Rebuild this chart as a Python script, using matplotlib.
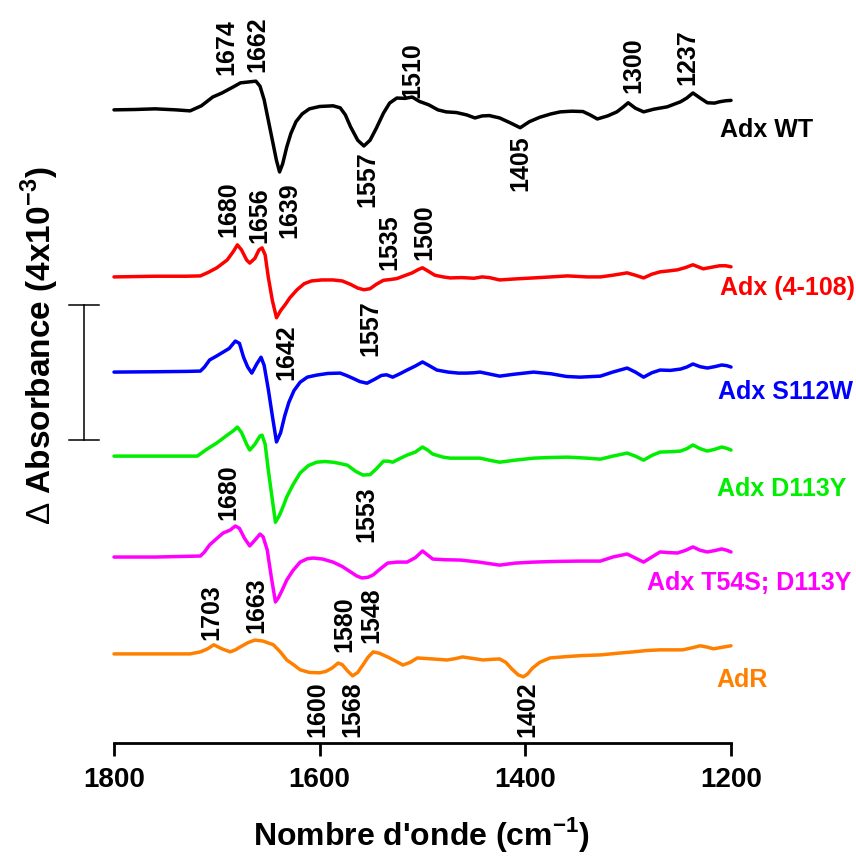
import matplotlib
matplotlib.use('Agg')
import matplotlib.pyplot as plt

# difference spectra, values in 10^-3 absorbance units (relative to each baseline)
wt_wn = [1800, 1780, 1760, 1740, 1726, 1715, 1704, 1695, 1684, 1677, 1668, 1662, 1658, 1654, 1650, 1646,
         1642, 1639, 1636, 1632, 1628, 1623, 1617, 1610, 1600, 1587, 1580, 1575, 1570, 1563, 1557, 1551,
         1545, 1538, 1532, 1525, 1517, 1510, 1503, 1494, 1485, 1477, 1467, 1457, 1449, 1442, 1435, 1425,
         1415, 1405, 1396, 1386, 1375, 1366, 1355, 1344, 1337, 1330, 1320, 1311, 1305, 1300, 1293, 1285,
         1275, 1262, 1249, 1243, 1237, 1230, 1223, 1216, 1211, 1205, 1200]
wt_abs = [0, 0.01, 0.03, 0.0, -0.03, 0.12, 0.38, 0.50, 0.68, 0.80, 0.83, 0.85, 0.70, 0.30, -0.30, -0.90,
          -1.50, -1.84, -1.60, -1.10, -0.70, -0.35, -0.12, 0.03, 0.10, 0.12, 0.06, -0.15, -0.50, -0.90, -1.07, -0.90,
          -0.55, -0.10, 0.20, 0.35, 0.34, 0.38, 0.25, 0.15, 0.0, -0.06, -0.08, -0.15, -0.24, -0.18, -0.17, -0.24,
          -0.38, -0.53, -0.35, -0.22, -0.12, -0.06, -0.04, -0.05, -0.15, -0.27, -0.18, -0.06, 0.08, 0.21, 0.05, -0.06,
          0.02, 0.09, 0.24, 0.35, 0.50, 0.35, 0.21, 0.20, 0.24, 0.27, 0.28]

t108_wn = [1800, 1760, 1730, 1716, 1708, 1700, 1690, 1684, 1680, 1676, 1671, 1668, 1663, 1659, 1656, 1653,
           1650, 1646, 1642, 1638, 1633, 1629, 1622, 1615, 1608, 1598, 1587, 1578, 1570, 1563, 1557, 1551,
           1545, 1538, 1532, 1525, 1518, 1510, 1504, 1500, 1495, 1488, 1480, 1473, 1462, 1450, 1442, 1435,
           1425, 1410, 1392, 1375, 1359, 1340, 1327, 1315, 1301, 1293, 1285, 1277, 1269, 1260, 1252, 1244,
           1237, 1232, 1227, 1220, 1211, 1205, 1200]
t108_abs = [0, 0.02, 0.02, 0.03, 0.14, 0.27, 0.50, 0.75, 0.95, 0.80, 0.50, 0.41, 0.55, 0.80, 0.86, 0.65,
            0.0, -0.70, -1.21, -1.00, -0.80, -0.62, -0.38, -0.20, -0.12, -0.09, -0.09, -0.12, -0.22, -0.33, -0.38, -0.35,
            -0.22, -0.10, -0.08, -0.05, 0.03, 0.12, 0.22, 0.27, 0.18, 0.05, 0.0, -0.03, -0.02, -0.04, 0.0, -0.02,
            -0.09, -0.06, -0.03, 0.0, 0.03, 0.0, 0.0, 0.05, 0.12, 0.05, -0.03, 0.08, 0.15, 0.18, 0.21, 0.28,
            0.36, 0.30, 0.24, 0.28, 0.33, 0.33, 0.30]

s112w_wn = [1800, 1760, 1730, 1716, 1712, 1707, 1700, 1694, 1688, 1682, 1678, 1674, 1670, 1666, 1661, 1657,
            1654, 1650, 1646, 1642, 1638, 1634, 1630, 1625, 1619, 1612, 1603, 1592, 1580, 1574, 1568, 1561,
            1554, 1547, 1540, 1535, 1529, 1522, 1515, 1507, 1500, 1494, 1486, 1475, 1465, 1457, 1450, 1444,
            1436, 1425, 1410, 1392, 1375, 1360, 1347, 1327, 1315, 1301, 1293, 1285, 1277, 1269, 1259, 1249,
            1243, 1237, 1230, 1223, 1216, 1209, 1204, 1200]
s112w_abs = [0, 0.01, 0.02, 0.03, 0.15, 0.36, 0.48, 0.59, 0.70, 0.92, 0.85, 0.44, 0.15, -0.03, 0.25, 0.44,
             0.20, -0.50, -1.30, -2.07, -1.80, -1.30, -0.90, -0.55, -0.30, -0.15, -0.09, -0.04, -0.03, -0.10, -0.18, -0.28,
             -0.33, -0.22, -0.10, -0.08, -0.15, -0.05, 0.06, 0.18, 0.30, 0.20, 0.06, 0.0, -0.03, -0.03, -0.02, 0.0,
             -0.05, -0.12, -0.06, 0.0, -0.05, -0.13, -0.15, -0.12, 0.0, 0.12, 0.0, -0.15, -0.02, 0.06, 0.05, 0.09,
             0.15, 0.24, 0.16, 0.12, 0.16, 0.21, 0.19, 0.15]

d113y_wn = [1800, 1760, 1719, 1710, 1700, 1690, 1684, 1680, 1676, 1671, 1668, 1663, 1658, 1656, 1653, 1650,
            1646, 1643, 1639, 1635, 1632, 1626, 1619, 1611, 1603, 1595, 1587, 1580, 1573, 1565, 1558, 1551,
            1545, 1538, 1533, 1529, 1522, 1515, 1507, 1500, 1495, 1490, 1480, 1473, 1460, 1444, 1435, 1425,
            1410, 1392, 1375, 1359, 1340, 1327, 1315, 1301, 1293, 1285, 1277, 1269, 1259, 1249, 1243, 1237,
            1230, 1223, 1216, 1209, 1204, 1200]
d113y_abs = [0, 0.0, 0.0, 0.20, 0.39, 0.62, 0.75, 0.86, 0.70, 0.35, 0.18, 0.35, 0.60, 0.62, 0.35, -0.40,
             -1.30, -1.96, -1.75, -1.45, -1.21, -0.85, -0.50, -0.28, -0.18, -0.16, -0.18, -0.22, -0.27, -0.45, -0.56, -0.55,
             -0.38, -0.15, -0.15, -0.18, -0.07, 0.03, 0.12, 0.27, 0.18, 0.06, -0.03, -0.06, -0.06, -0.06, -0.12, -0.18,
             -0.12, -0.06, -0.04, -0.03, -0.06, -0.09, 0.0, 0.09, 0.0, -0.12, 0.02, 0.12, 0.13, 0.15, 0.22, 0.33,
             0.22, 0.15, 0.20, 0.27, 0.23, 0.18]

t54s_wn = [1800, 1760, 1730, 1716, 1712, 1707, 1700, 1694, 1687, 1682, 1678, 1673, 1668, 1663, 1658, 1655,
           1651, 1647, 1643, 1640, 1636, 1632, 1626, 1619, 1612, 1606, 1597, 1587, 1578, 1570, 1564, 1559,
           1553, 1548, 1541, 1534, 1525, 1515, 1507, 1500, 1495, 1490, 1478, 1463, 1445, 1425, 1410, 1392,
           1370, 1347, 1327, 1315, 1301, 1293, 1285, 1277, 1269, 1260, 1252, 1244, 1237, 1230, 1223, 1216,
           1209, 1204, 1200]
t54s_abs = [0, 0.0, 0.02, 0.03, 0.15, 0.36, 0.55, 0.71, 0.80, 0.92, 0.85, 0.55, 0.33, 0.50, 0.68, 0.60,
            0.21, -0.60, -1.33, -1.20, -0.95, -0.68, -0.40, -0.15, -0.05, -0.03, -0.06, -0.15, -0.28, -0.44, -0.56, -0.62,
            -0.60, -0.53, -0.35, -0.18, -0.15, -0.15, -0.02, 0.18, 0.06, -0.06, -0.08, -0.09, -0.15, -0.24, -0.18, -0.15,
            -0.13, -0.12, -0.12, 0.0, 0.09, -0.03, -0.15, 0.0, 0.15, 0.13, 0.12, 0.20, 0.30, 0.20, 0.15, 0.19,
            0.24, 0.20, 0.15]

adr_wn = [1800, 1760, 1726, 1716, 1709, 1703, 1695, 1687, 1682, 1677, 1670, 1663, 1655, 1645, 1638, 1632,
          1625, 1619, 1610, 1600, 1594, 1588, 1582, 1578, 1573, 1568, 1563, 1558, 1553, 1548, 1542, 1534,
          1527, 1519, 1512, 1505, 1490, 1476, 1468, 1461, 1450, 1441, 1432, 1425, 1419, 1413, 1407, 1402,
          1398, 1393, 1386, 1376, 1360, 1345, 1327, 1310, 1295, 1282, 1269, 1258, 1247, 1238, 1230, 1223,
          1217, 1208, 1200]
adr_abs = [0, 0.0, 0.0, 0.06, 0.15, 0.27, 0.15, 0.06, 0.12, 0.21, 0.33, 0.41, 0.38, 0.27, 0.05, -0.18,
           -0.33, -0.47, -0.55, -0.56, -0.52, -0.42, -0.27, -0.32, -0.50, -0.65, -0.55, -0.33, -0.10, 0.06, 0.02, -0.09,
           -0.20, -0.33, -0.25, -0.12, -0.15, -0.18, -0.14, -0.09, -0.14, -0.18, -0.16, -0.15, -0.25, -0.45, -0.62, -0.68,
           -0.60, -0.42, -0.25, -0.12, -0.08, -0.05, -0.03, 0.02, 0.06, 0.10, 0.12, 0.12, 0.12, 0.18, 0.24, 0.20,
           0.15, 0.20, 0.24]

names = ['Adx WT', 'Adx (4-108)', 'Adx S112W', 'Adx D113Y', 'Adx T54S; D113Y', 'AdR']
colors = ['black', '#ff0000', '#0000ff', '#00ee00', '#ff00ff', '#ff8000']
offsets = [18.76, 13.81, 10.99, 8.50, 5.51, 2.64]
spectra = [(wt_wn, wt_abs), (t108_wn, t108_abs), (s112w_wn, s112w_abs),
           (d113y_wn, d113y_abs), (t54s_wn, t54s_abs), (adr_wn, adr_abs)]
name_pos = [(1211, 18.16), (1211, 13.48), (1213, 10.40), (1214, 7.53), (1282, 4.74), (1214, 1.87)]

# peak labels: text, x, y, vertical alignment
peaks = [('1674', 1691, 19.79, 'bottom'), ('1662', 1661, 19.88, 'bottom'), ('1510', 1510, 19.11, 'bottom'),
         ('1300', 1295, 19.26, 'bottom'), ('1237', 1242, 19.50, 'bottom'), ('1639', 1629, 14.96, 'bottom'),
         ('1557', 1554, 15.88, 'bottom'), ('1405', 1405, 18.01, 'top'),
         ('1680', 1689, 14.99, 'bottom'), ('1656', 1659, 14.81, 'bottom'), ('1535', 1532, 14.01, 'bottom'),
         ('1500', 1498, 14.31, 'bottom'), ('1642', 1632, 12.39, 'top'), ('1557', 1551, 13.13, 'top'),
         ('1553', 1555, 7.59, 'top'), ('1680', 1689, 6.61, 'bottom'),
         ('1703', 1705, 3.05, 'bottom'), ('1663', 1662, 3.26, 'bottom'), ('1580', 1576, 2.70, 'bottom'),
         ('1548', 1550, 2.96, 'bottom'), ('1600', 1602, 0.18, 'bottom'), ('1568', 1568, 0.18, 'bottom'),
         ('1402', 1398, 0.18, 'bottom')]

plt.rcParams['font.family'] = ['Liberation Sans', 'DejaVu Sans']
plt.rcParams['mathtext.fontset'] = 'custom'
plt.rcParams['mathtext.rm'] = 'Liberation Sans'
plt.rcParams['mathtext.bf'] = 'Liberation Sans:bold'

fig = plt.figure(figsize=(8.56, 8.57), dpi=100)
ax = fig.add_axes([114 / 856, 114 / 857, 617 / 856, 733 / 857])

for (wn, a), off, c in zip(spectra, offsets, colors):
    ax.plot(wn, [v + off for v in a], color=c, lw=2.5, clip_on=False,
            solid_joinstyle='round', solid_capstyle='round')

for (x, y), n, c in zip(name_pos, names, colors):
    ax.text(x, y, n, color=c, fontsize=18, fontweight='bold', ha='left', va='center', clip_on=False)

for t, x, y, va in peaks:
    ax.text(x, y, t, rotation=90, fontsize=18, fontweight='bold', ha='center', va=va)

# scale bar = 4x10^-3
ax.plot([1829.2, 1829.2], [8.98, 12.98], color='black', lw=1.1, clip_on=False)
ax.plot([1815, 1843.5], [12.98, 12.98], color='black', lw=1.1, clip_on=False)
ax.plot([1815, 1843.5], [8.98, 8.98], color='black', lw=1.1, clip_on=False)

ax.set_xlim(1800, 1200)
ax.set_ylim(0, 733 / 33.75)
ax.set_xticks([1800, 1600, 1400, 1200])
ax.set_yticks([])
for s in ['top', 'right', 'left']:
    ax.spines[s].set_visible(False)
ax.spines['bottom'].set_linewidth(2)
ax.tick_params(axis='x', length=9.5, width=2, pad=8, labelsize=20)
for lab in ax.get_xticklabels():
    lab.set_fontweight('bold')

fig.text(422 / 856, 1 - 835 / 857, "Nombre d'onde (cm$^{\\mathbf{-1}}$)", fontsize=23, fontweight='bold',
         ha='center', va='center')
fig.text(40 / 856, 1 - 346 / 857, "$\\mathrm{\\Delta}$ Absorbance (4x10$^{\\mathbf{-3}}$)", fontsize=24,
         fontweight='bold', rotation=90, ha='center', va='center')

fig.savefig('out.png', dpi=100)
